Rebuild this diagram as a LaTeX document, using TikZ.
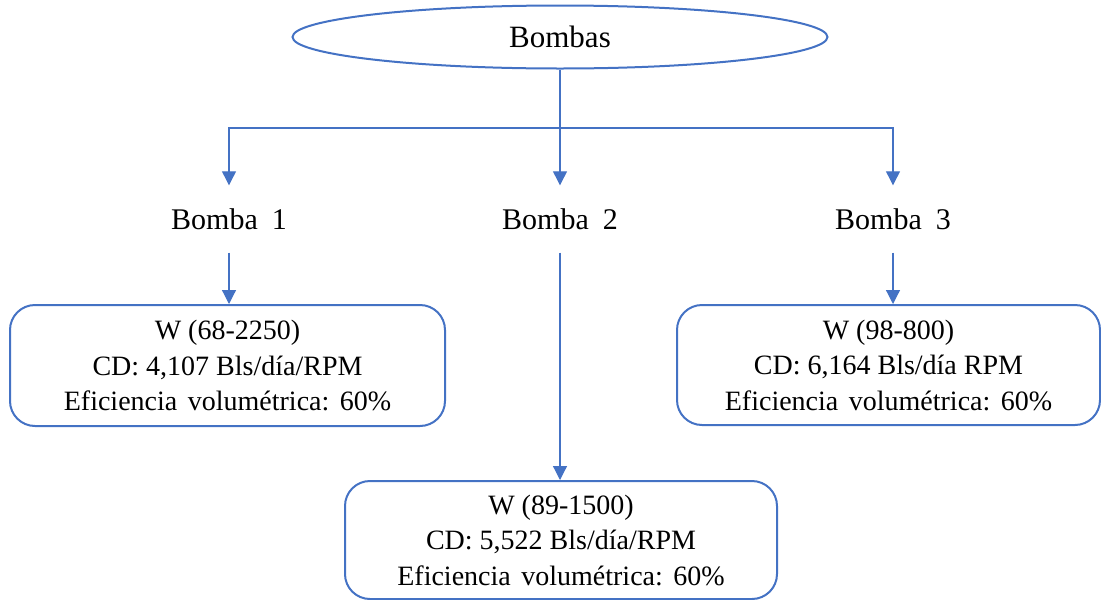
\documentclass[tikz,border=0pt]{standalone}
\usepackage{fontspec}
\setmainfont{Liberation Serif}
\usetikzlibrary{shapes.geometric,arrows.meta}
\definecolor{officeblue}{HTML}{4472C4}
\newcommand{\wsp}{\hspace{10.5pt}}
\tikzset{
  link/.style={draw=officeblue, line width=1.2pt, -{Triangle[length=14pt,width=14pt]}},
  plain/.style={draw=officeblue, line width=1.2pt},
  infobox/.style={draw=officeblue, line width=2pt, rounded corners=25pt, align=center,
    inner sep=0pt, font=\fontsize{28}{35.5}\selectfont},
  pumplabel/.style={inner sep=0pt, minimum height=67pt, font=\fontsize{30}{36}\selectfont},
}
\begin{document}
\begin{tikzpicture}[x=1pt, y=-1pt]
  \useasboundingbox (0,0) rectangle (1101,600);
  % root
  \node[ellipse, draw=officeblue, line width=2pt, minimum width=535pt, minimum height=63pt,
        inner sep=0pt, font=\fontsize{31}{36}\selectfont] (root) at (560,37) {Bombas};
  \coordinate (split) at (560,128);
  % pump names
  \node[pumplabel] (b1) at (229,219) {Bomba\hspace{14pt}1};
  \node[pumplabel] (b2) at (560,219) {Bomba\hspace{14pt}2};
  \node[pumplabel] (b3) at (893,219) {Bomba\hspace{14pt}3};
  % detail boxes
  \node[infobox, minimum width=435pt, minimum height=121pt] (d1) at (227.5,365.5)
    {W (68-2250)\\CD: 4,107 Bls/día/RPM\\Eficiencia\wsp volumétrica:\wsp 60\%};
  \node[infobox, minimum width=423pt, minimum height=120pt] (d3) at (888.5,365)
    {W (98-800)\\CD: 6,164 Bls/día RPM\\Eficiencia\wsp volumétrica:\wsp 60\%};
  \node[infobox, minimum width=432pt, minimum height=118pt] (d2) at (561,540)
    {W (89-1500)\\CD: 5,522 Bls/día/RPM\\Eficiencia\wsp volumétrica:\wsp 60\%};
  % connectors
  \draw[plain] (root.south) -- (split);
  \draw[link] (split) -| (b1.north);
  \draw[link] (split) -- (b2.north);
  \draw[link] (split) -| (b3.north);
  \draw[link] (b1.south) -- (b1.south |- d1.north);
  \draw[link] (b2.south) -- (b2.south |- d2.north);
  \draw[link] (b3.south) -- (b3.south |- d3.north);
\end{tikzpicture}
\end{document}
